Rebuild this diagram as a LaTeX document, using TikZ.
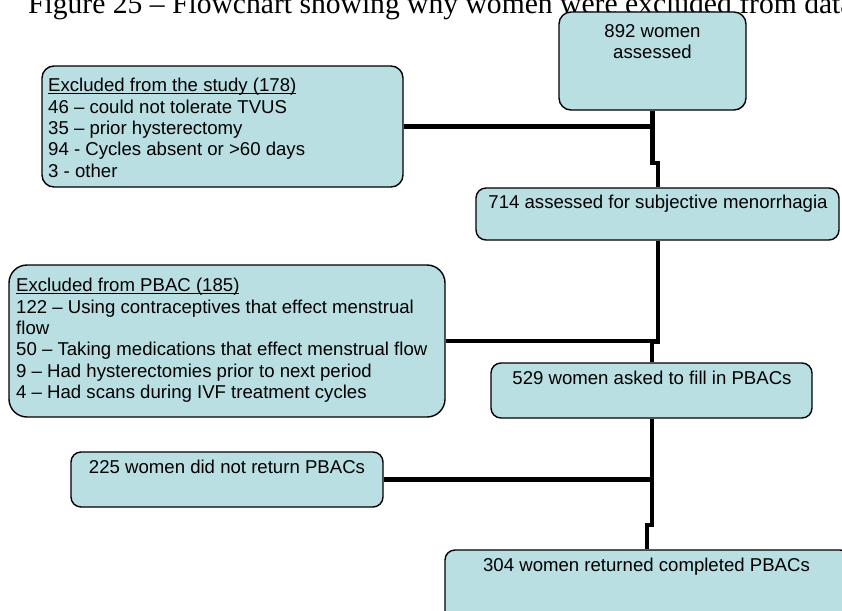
\documentclass[tikz,border=0pt]{standalone}
\usepackage{fontspec}
\setmainfont{Liberation Sans}
\newfontfamily\titlefont{Liberation Serif}
\definecolor{boxfill}{RGB}{185,223,227}
\newsavebox\ulbox
\newcommand\myul[1]{\sbox\ulbox{#1}\makebox[0pt][l]{\rule[-2.6pt]{\wd\ulbox}{1.3pt}}\usebox\ulbox}
\begin{document}
\begin{tikzpicture}[x=1pt,y=-1pt,
  box/.style={draw=black, fill=boxfill, line width=1.4pt, rounded corners=12pt, inner sep=0pt},
  conn/.style={line width=4.6pt, black},
  txt/.style={inner sep=0pt, font=\fontsize{18.6}{21.4}\selectfont, align=left},
  ctxt/.style={inner sep=0pt, font=\fontsize{18.6}{21.4}\selectfont, align=center}]
\useasboundingbox (0,0) rectangle (842,610);
\fill[white] (0,0) rectangle (842,610);

% title
\node[anchor=base west, inner sep=0pt, font=\titlefont\fontsize{29.6}{31}\selectfont] (title) at (28,14)
  {Figure 25 – Flowchart showing why women were excluded from data};

% boxes
\node[box, minimum width=187pt, minimum height=98pt] (b892) at (652.5,61) {};
\node[box, minimum width=361pt, minimum height=121pt] (ex1) at (222.5,126.5) {};
\node[box, minimum width=363pt, minimum height=52pt, rounded corners=10pt] (b714) at (657.5,214) {};
\node[box, minimum width=436pt, minimum height=152pt, rounded corners=18pt] (exP) at (227,341) {};
\node[box, minimum width=321pt, minimum height=55pt, rounded corners=10pt] (b529) at (651.5,390.5) {};
\node[box, minimum width=312pt, minimum height=55pt, rounded corners=10pt] (ex225) at (227,479.5) {};
\node[box, minimum width=405pt, minimum height=80pt, rounded corners=10pt] (b304) at (647.5,590) {};

% texts
\node[ctxt, anchor=north] (t892) at (652.5,24) {892 women\\assessed};
\node[txt, anchor=north west] (tex1) at (48,78)
  {\myul{Excluded from the study (178)}\\46 – could not tolerate TVUS\\35 – prior hysterectomy\\94 - Cycles absent or >60 days\\3 - other};
\node[ctxt, anchor=base] (t714) at (658,208.5) {714 assessed for subjective menorrhagia};
\node[txt, anchor=north west] (texP) at (16,278)
  {\myul{Excluded from PBAC (185)}\\122 – Using contraceptives that effect menstrual\\flow\\50 – Taking medications that effect menstrual flow\\9 – Had hysterectomies prior to next period\\4 – Had scans during IVF treatment cycles};
\node[ctxt, anchor=base] (t529) at (652,384.5) {529 women asked to fill in PBACs};
\node[ctxt, anchor=base] (t225) at (227,473.5) {225 women did not return PBACs};
\node[ctxt, anchor=base] (t304) at (646.5,571.5) {304 women returned completed PBACs};

% connectors
\coordinate (j1) at (652.5,163);
\coordinate (j2) at (658,163);
\draw[conn] (b892.south) -- (j1) -- (j2) -- (j2 |- b714.north);
\draw[conn] (ex1.east) -- ([xshift=2pt]ex1.east -| j1);

\coordinate (j3) at (658,342);
\coordinate (j4) at (652,342);
\draw[conn] (j3 |- b714.south) -- (j3) -- (j4) -- (j4 |- b529.north);
\draw[conn] (exP.east) -- ([xshift=2pt]exP.east -| j3);

\coordinate (j5) at (652,525);
\coordinate (j6) at (647,525);
\draw[conn] (j5 |- b529.south) -- (j5) -- (j6) -- (j6 |- b304.north);
\draw[conn] (ex225.east) -- ([xshift=2pt]ex225.east -| j5);
\end{tikzpicture}
\end{document}
